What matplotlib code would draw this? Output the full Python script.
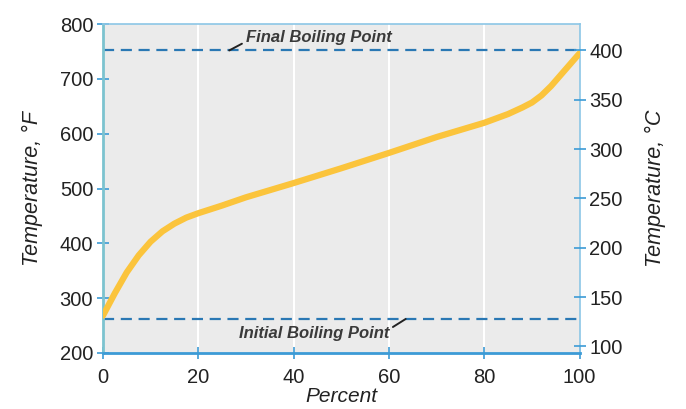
import matplotlib.pyplot as plt

plt.rcParams['font.family'] = ['Liberation Sans', 'DejaVu Sans']

# distillation curve
percent = [0, 2.5, 5, 7.5, 10, 12.5, 15, 17.5, 20, 25, 30, 40, 50, 60, 70, 80,
           85, 88, 90, 92, 94, 96, 98, 100]
temp_f = [268, 309, 347, 378, 403, 422, 436, 447, 455, 469, 484, 510, 537, 565, 594, 620,
          636, 648, 657, 670, 687, 707, 727, 747]
final_bp = 752   # °F (400 °C)
initial_bp = 262  # °F

left_ticks = [200, 300, 400, 500, 600, 700, 800]
right_ticks = [100, 150, 200, 250, 300, 350, 400]
x_ticks = [0, 20, 40, 60, 80, 100]

blue = '#3c9bd6'
teal = '#7cc3cf'
dash_col = '#2a78b4'

fig = plt.figure(figsize=(6.86, 4.09), dpi=100)
ax = fig.add_axes([0.150, 0.137, 0.695, 0.804])
ax.set_facecolor('#ebebeb')

for x in [20, 40, 60, 80]:
    ax.axvline(x, color='white', lw=1.5, zorder=1)

ax.axhline(final_bp, color=dash_col, lw=1.6, ls=(0, (5, 3)), zorder=2)
ax.axhline(initial_bp, color=dash_col, lw=1.6, ls=(0, (5, 3)), zorder=2)
ax.plot(percent, temp_f, color='#fbc43c', lw=4.5, solid_capstyle='round',
        solid_joinstyle='round', zorder=3)

ax.set_xlim(0, 100)
ax.set_ylim(200, 800)
ax.set_xticks(x_ticks)
ax.set_yticks(left_ticks)
ax.tick_params(axis='both', direction='inout', length=8, width=1.2, color=blue,
               labelsize=14.5, labelcolor='#222222')
ax.tick_params(axis='x', pad=7)
ax.tick_params(axis='y', pad=3)

for s in ['top', 'right']:
    ax.spines[s].set_color('#8cc6e6')
    ax.spines[s].set_linewidth(1.2)
ax.spines['left'].set_color(teal)
ax.spines['left'].set_linewidth(2)
ax.spines['bottom'].set_color(blue)
ax.spines['bottom'].set_linewidth(2)

ax.set_xlabel('Percent', fontsize=15, style='italic', labelpad=0, color='#222222')
ax.set_ylabel('Temperature, °F', fontsize=15.5, style='italic', labelpad=12, color='#222222')

ax2 = ax.twinx()
ax2.set_ylim((200 - 32) * 5 / 9, (800 - 32) * 5 / 9)
ax2.set_yticks(right_ticks)
ax2.tick_params(axis='y', direction='inout', length=8, width=1.2, color=blue,
                labelsize=14.5, labelcolor='#222222', pad=3)
for s in ax2.spines.values():
    s.set_visible(False)
ax2.set_ylabel('Temperature, °C', fontsize=15.5, style='italic', labelpad=16, color='#222222')

ax.annotate('Final Boiling Point', xy=(26.5, final_bp), xytext=(30.0, 775),
            fontsize=12, style='italic', weight='bold', va='center', ha='left',
            color='#3a3a3a',
            arrowprops=dict(arrowstyle='-', color='#222222', lw=1.4,
                            shrinkA=1, shrinkB=0, relpos=(0, 0.25)))
ax.annotate('Initial Boiling Point', xy=(63.5, initial_bp), xytext=(60.0, 236),
            fontsize=12, style='italic', weight='bold', va='center', ha='right',
            color='#3a3a3a',
            arrowprops=dict(arrowstyle='-', color='#222222', lw=1.4,
                            shrinkA=1, shrinkB=0, relpos=(1, 0.75)))

fig.savefig('out.png', dpi=100)
